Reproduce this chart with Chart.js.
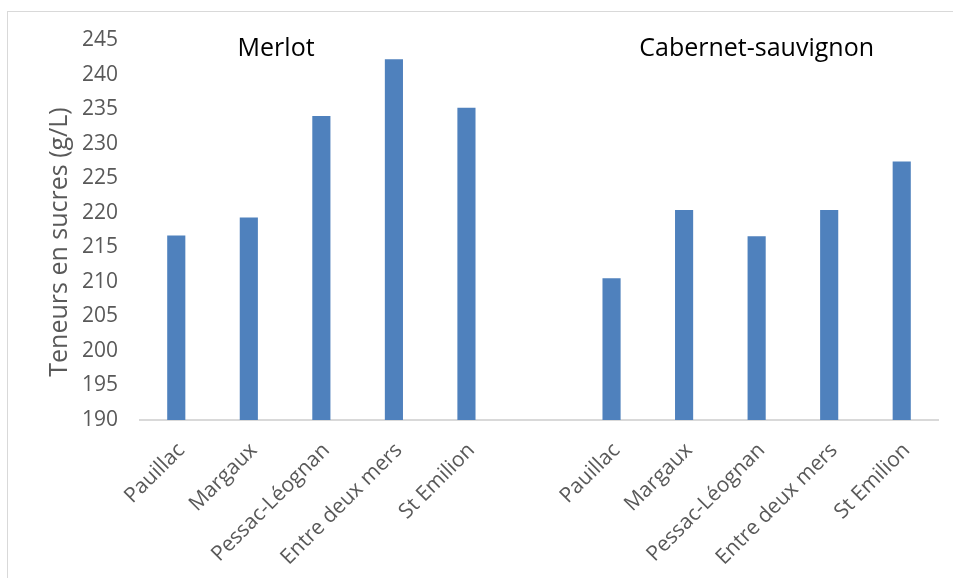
<!DOCTYPE html>
<html><head><meta charset="utf-8">
<script src="https://cdn.jsdelivr.net/npm/chart.js@4"></script>
<style>
html,body{margin:0;padding:0;background:#fff;}
#wrap{position:relative;width:953px;height:578px;overflow:hidden;}
#frame{position:absolute;left:7px;top:11px;width:980px;height:620px;border:1px solid #d9d9d9;box-sizing:border-box;}
#c{position:absolute;left:0;top:0;}
</style></head>
<body><div id="wrap"><div id="frame"></div><canvas id="c" width="953" height="578"></canvas></div>
<script>
const categories = ['Pauillac','Margaux','Pessac-Léognan','Entre deux mers','St Emilion','','Pauillac','Margaux','Pessac-Léognan','Entre deux mers','St Emilion'];
const merlotValues = [216.7, 219.3, 234.0, 242.2, 235.2];
const cabernetValues = [210.5, 220.4, 216.6, 220.4, 227.4];
const groupTitles = ['Merlot', 'Cabernet-sauvignon'];
const yAxisTitle = 'Teneurs en sucres (g/L)';
const yMin = 190, yMax = 245, yStep = 5;

const values = [...merlotValues, null, ...cabernetValues];

const PLOT_LEFT = 140, PLOT_RIGHT = 938, PLOT_TOP = 40, PLOT_BOTTOM = 420;
const W = 953, H = 578;
const PAD_LEFT = 44;
const Y_TITLE_X = 67, Y_TITLE_Y = 242;

const textPlugin = {
  id: 'groupTitles',
  afterDraw(chart) {
    const ctx = chart.ctx;
    const x = chart.scales.x;
    ctx.save();
    ctx.setTransform(1, 0, 0, 1, 0, 0);
    ctx.font = '25px "Open Sans"';
    ctx.fillStyle = '#000000';
    ctx.textAlign = 'center';
    ctx.textBaseline = 'alphabetic';
    ctx.fillText(groupTitles[0], (x.getPixelForValue(1) + x.getPixelForValue(2)) / 2 - 9, 56);
    ctx.fillText(groupTitles[1], x.getPixelForValue(8), 56);
    ctx.restore();
    // y axis title
    ctx.save();
    ctx.setTransform(0, -1, 1, 0, Y_TITLE_X, Y_TITLE_Y);
    ctx.fillStyle = '#595959';
    ctx.textAlign = 'center';
    ctx.textBaseline = 'alphabetic';
    ctx.font = '25px "Open Sans"';
    ctx.fillText(yAxisTitle, 0, 0);
    ctx.restore();
  }
};

new Chart(document.getElementById('c'), {
  type: 'bar',
  data: {
    labels: categories,
    datasets: [{
      data: values,
      backgroundColor: '#4f81bd',
      borderWidth: 0,
      barPercentage: 0.5,
      categoryPercentage: 0.5
    }]
  },
  options: {
    responsive: false,
    animation: false,
    layout: { padding: { left: PAD_LEFT, right: W - PLOT_RIGHT, top: PLOT_TOP, bottom: 0 } },
    plugins: { legend: { display: false }, tooltip: { enabled: false } },
    scales: {
      x: {
        grid: { display: false, drawTicks: false },
        border: { display: true, color: '#d9d9d9', width: 2 },
        ticks: {
          autoSkip: false, maxRotation: 45, minRotation: 45,
          color: '#595959', font: { family: '"Open Sans"', size: 21 }, padding: 18, labelOffset: 5
        },
        afterFit(s) { s.height = H - PLOT_BOTTOM; }
      },
      y: {
        min: yMin, max: yMax,
        grid: { display: false, drawTicks: false },
        border: { display: false },
        ticks: { stepSize: yStep, color: '#595959', font: { family: '"Open Sans"', size: 21 }, padding: 22 },
        title: { display: false, text: yAxisTitle },
        afterFit(s) { s.width = PLOT_LEFT - PAD_LEFT; }
      }
    }
  },
  plugins: [textPlugin]
});
</script>
</body></html>
